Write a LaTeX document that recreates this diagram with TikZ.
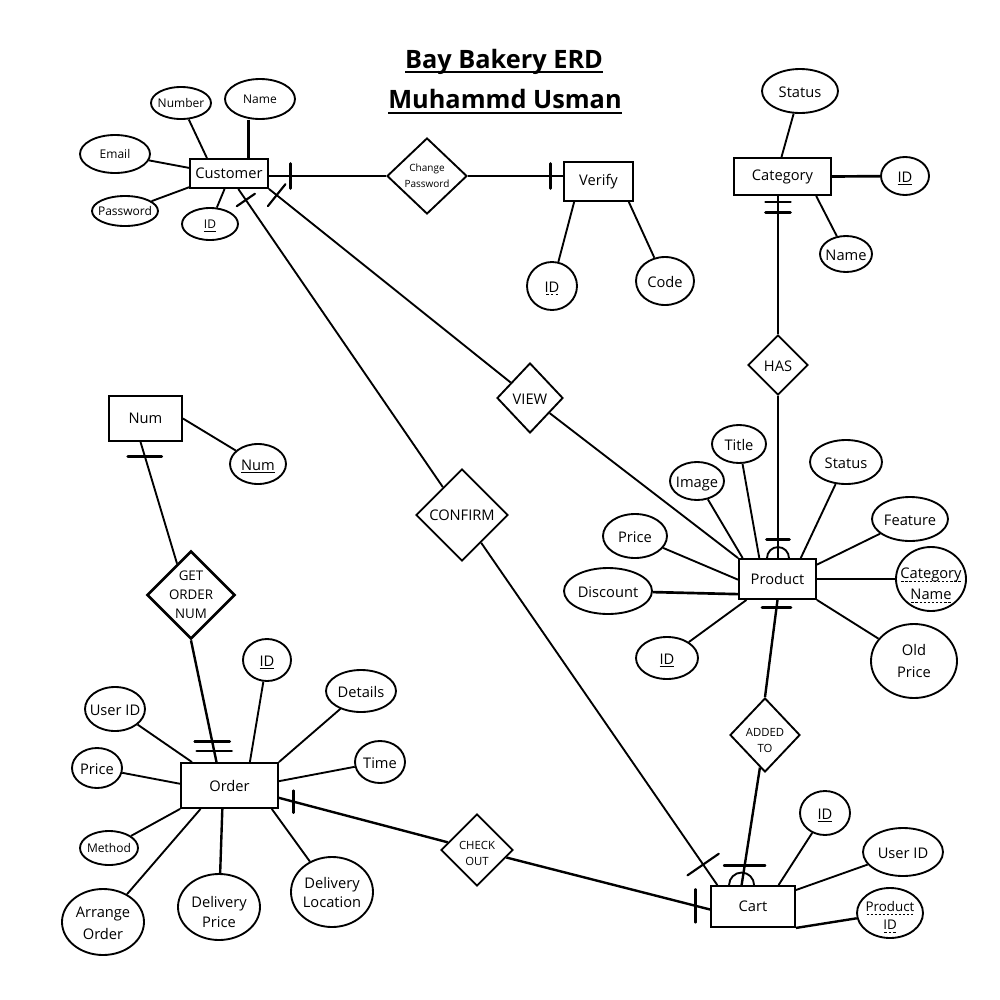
\documentclass[tikz,border=0pt]{standalone}
\usepackage{fontspec}
\setmainfont{Open Sans}
\usetikzlibrary{shapes.geometric,calc}
\newcommand\tx[2][1.5pt]{\raisebox{\dimexpr-#1-0.25em\relax}[0pt][0pt]{\makebox[0pt]{\begin{tabular}{@{}c@{}}#2\end{tabular}}}}
\newsavebox\myulbox
\newcommand\myul[1]{\sbox\myulbox{#1}\rlap{\usebox\myulbox}\rule[-2.2pt]{\wd\myulbox}{0.65pt}}
\newcommand\mytitleul[1]{\sbox\myulbox{#1}\rlap{\usebox\myulbox}\rule[-4pt]{\wd\myulbox}{1.7pt}}
\newcommand\mydul[1]{\sbox\myulbox{#1}\rlap{\usebox\myulbox}\hbox to \wd\myulbox{\xleaders\hbox{\kern0.6pt\rule[-2.2pt]{1.8pt}{0.6pt}\kern0.6pt}\hfill}}
\begin{document}
\begin{tikzpicture}[x=0.75pt,y=-0.75pt,
 ent/.style 2 args={draw, line width=1.4pt, rectangle, inner sep=0pt, minimum width=#1*0.75pt, minimum height=#2*0.75pt, font=\fontsize{11}{14}\selectfont},
 att/.style 2 args={draw, line width=1.4pt, ellipse, inner sep=0pt, minimum width=#1*0.75pt, minimum height=#2*0.75pt, font=\fontsize{11}{16}\selectfont},
 rel/.style 2 args={draw, line width=1.4pt, diamond, inner sep=0pt, minimum width=#1*0.75pt, minimum height=#2*0.75pt, font=\fontsize{11}{14}\selectfont},
 ln/.style={line width=1.4pt},
 hbar/.style={draw, line width=2pt, line join=round, rectangle, minimum width=#1*0.75pt, minimum height=0pt, inner sep=0pt, outer sep=0pt},
 vbar/.style={draw, line width=2pt, line join=round, rectangle, minimum height=#1*0.75pt, minimum width=0pt, inner sep=0pt, outer sep=0pt},
 xmark/.style={sloped, draw, line width=1.6pt, line join=round, rectangle, minimum height=#1*0.75pt, minimum width=0pt, inner sep=0pt, outer sep=0pt},
]
\fill[white] (0,0) rectangle (1000,1000);
\useasboundingbox (0,0) rectangle (1000,1000);

% titles
\node[font=\bfseries\fontsize{19}{23}\selectfont] (t1) at (504,61.5) {\mytitleul{Bay Bakery ERD}};
\node[font=\bfseries\fontsize{19}{23}\selectfont] (t2) at (505,101.5) {\mytitleul{Muhammd Usman}};

% Customer
\node[ent={78}{29}] (cust) at (229,173.5) {Customer};
\node[att={60}{32}, font=\fontsize{9}{11}\selectfont] (cnum) at (181,103) {\tx{Number}};
\node[att={70}{40}, font=\fontsize{9}{11}\selectfont] (cname) at (260,99) {\tx{Name}};
\node[att={70}{38}, font=\fontsize{9}{11}\selectfont] (cemail) at (115,154) {\tx{Email}};
\node[att={66}{30}, font=\fontsize{9}{11}\selectfont] (cpass) at (125,211) {\tx{Password}};
\node[att={56}{32}, font=\fontsize{9}{11}\selectfont] (cid) at (210,224) {\tx{\myul{ID}}};

% Change password / Verify
\node[rel={80}{76}, font=\fontsize{7.5}{12}\selectfont] (cp) at (427,176) {\tx[0pt]{Change\\Password}};
\node[ent={69}{39}] (ver) at (598.5,181.5) {Verify};
\node[att={50}{48}] (vid) at (552,286) {\tx{\mydul{ID}}};
\node[att={58}{48}] (vcode) at (665,281) {\tx{Code}};

% Category
\node[ent={97}{37}] (cat) at (782.5,176.5) {Category};
\node[att={76}{44}] (cstat) at (800,91) {\tx{Status}};
\node[att={48}{38}] (catid) at (905,176) {\tx{\myul{ID}}};
\node[att={52}{36}] (catname) at (846,254) {\tx{Name}};
\node[rel={60}{60}] (has) at (778,365) {\tx[2pt]{HAS}};

% Product
\node[ent={77}{40}] (prod) at (777.5,579) {Product};
\node[att={54}{38}] (ptitle) at (739,444) {\tx{Title}};
\node[att={54}{38}] (pimage) at (697,481) {\tx{Image}};
\node[att={72}{44}] (pstat) at (846,462) {\tx{Status}};
\node[att={76}{44}] (pfeat) at (910,519) {\tx{Feature}};
\node[att={64}{44}] (pprice) at (635,536) {\tx{Price}};
\node[att={88}{46}] (pdisc) at (608,591) {\tx{Discount}};
\node[att={70}{64}] (pcat) at (931,579) {\tx[4.5pt]{\mydul{Category}\\\mydul{Name}}};
\node[att={62}{42}] (pid) at (667,658) {\tx{\myul{ID}}};
\node[att={86}{74}] (pold) at (914,661) {\tx[0.8pt]{Old\\Price}};

% relationships
\node[rel={66}{70}] (view) at (530,398) {\tx[2pt]{VIEW}};
\node[rel={92}{92}] (conf) at (462,515) {\tx{CONFIRM}};
\node[rel={70}{74}, font=\fontsize{8.5}{12.5}\selectfont] (addto) at (765,735) {\tx[4.5pt]{ADDED\\TO}};
\node[rel={72}{72}, font=\fontsize{8.5}{12.5}\selectfont] (co) at (477,850) {\tx[3pt]{CHECK\\OUT}};
\node[rel={88}{88}, line width=2pt, font=\fontsize{10}{14}\selectfont] (gon) at (191,595) {\tx[0.5pt]{GET\\ORDER\\NUM}};

% Cart
\node[ent={84}{41}] (cart) at (753,906.5) {Cart};
\node[att={50}{44}] (cartid) at (825,813) {\tx{\myul{ID}}};
\node[att={80}{48}] (cartuser) at (903,852) {\tx{User ID}};
\node[att={66}{50}, font=\fontsize{10}{13.5}\selectfont] (cartprod) at (890,913) {\tx[3pt]{\mydul{Product}\\\mydul{ID}}};

% Num
\node[ent={73}{45}] (num) at (145.5,418.5) {Num};
\node[att={56}{40}] (numattr) at (258,464) {\tx{\myul{Num}}};

% Order
\node[ent={97}{45}] (order) at (229.5,785.5) {Order};
\node[att={48}{42}] (oid) at (267,660) {\tx{\myul{ID}}};
\node[att={70}{42}] (odet) at (361,691) {\tx{Details}};
\node[att={50}{42}] (otime) at (380,762) {\tx{Time}};
\node[att={60}{44}] (ouser) at (115,709) {\tx{User ID}};
\node[att={50}{40}] (oprice) at (97,768) {\tx{Price}};
\node[att={58}{34}, font=\fontsize{9}{11}\selectfont] (ometh) at (109,848) {\tx{Method}};
\node[att={82}{66}, font=\fontsize{11}{16.5}\selectfont] (oarr) at (103,922) {\tx{Arrange\\Order}};
\node[att={82}{66}, font=\fontsize{11}{15}\selectfont] (odp) at (219,907) {\tx[4.5pt]{Delivery\\Price}};
\node[att={82}{70}, font=\fontsize{11}{14.5}\selectfont] (odl) at (332,892) {\tx{Delivery\\Location}};

% ---- connectors ----
% Customer attributes
\draw[ln] (cnum) -- (cust.145.4);
\draw[ln, line width=2pt] (cust.38.9 |- cname.south) -- (cust.38.9);
\draw[ln] (cemail) -- (cust.172);
\draw[ln] (cpass) -- (cust.199);
\draw[ln] (cid) -- (cust.254.6);

% Customer - Change Password - Verify
\draw[ln, line width=2.2pt] (cust.east |- cp.west) -- (cp.west) node[pos=0.185, vbar=25]{};
\draw[ln, line width=2pt] (cp.east) -- (ver.west |- cp.east) node[pos=0.866, vbar=25]{};
\draw[ln] (vid) -- (ver.220.9);
\draw[ln] (vcode) -- (ver.326.5);

% Category
\draw[ln] (cstat) -- (cat.93);
\draw[ln, line width=2pt] (cat.east) -- (catid);
\draw[ln] (cat.330.3) -- (catname);
\draw[ln, line width=1.8pt] (has.north |- cat.south) -- (has.north) node[pos=0.043, hbar=25]{} node[pos=0.121, hbar=25]{};
\draw[ln, line width=1.8pt] (has.south) -- (has.south |- prod.north) coordinate (ptop) node[pos=0.884, hbar=23]{};
\draw[ln] ([xshift=-8.25pt]ptop) arc[start angle=180, end angle=360, radius=11];

% Product attributes
\draw[ln] (ptitle) -- (prod.131.2);
\draw[ln] (pimage) -- (prod.149.9);
\draw[ln] (pstat) -- (prod.42.9);
\draw[ln] (pfeat) -- (prod.20);
\draw[ln] (pprice) -- (prod.181.5);
\draw[ln, line width=2pt] (pdisc) -- (prod.201.3);
\draw[ln, line width=1.8pt] (prod.east) -- (pcat);
\draw[ln] (pid) -- (prod.214.6);
\draw[ln] (prod.south east) -- (pold);

% VIEW
\draw[ln] (cust.south east) -- (view) node[pos=0.032, xmark=28]{};
\draw[ln] (view) -- (prod.north west);

% CONFIRM
\draw[ln] (cust.301.8) -- (conf) node[pos=0.037, xmark=22]{};
\draw[ln] (conf) -- (cart.149.6) node[pos=0.94, xmark=38]{};

% ADDED TO
\draw[ln, line width=1.8pt] (prod.south) -- (addto.north) node[pos=0.08, hbar=29]{};
\draw[ln, line width=1.8pt] (addto) -- (cart.118.2) coordinate (ctop) node[pos=0.836, hbar=41]{};
\draw[ln] ([xshift=-9.4pt]ctop) arc[start angle=180, end angle=360, radius=12.5];

% Cart attributes
\draw[ln] (cart.40.5) -- (cartid);
\draw[ln] (cart.21.4) -- (cartuser);
\draw[ln, line width=1.8pt] (cart.south east) -- (cartprod);

% CHECK OUT
\draw[ln, line width=1.8pt] (order.346.7) -- (co) node[pos=0.086, vbar=22]{};
\draw[ln, line width=1.8pt] (co) -- (cart.184.8) node[pos=0.93, vbar=33]{};

% Num / GET ORDER NUM
\draw[ln] (num.east) -- (numattr);
\draw[ln] (num.258.7) -- (gon.114) node[pos=0.117, hbar=34]{};
\draw[ln, line width=1.8pt] (gon.south) -- (order.119) node[pos=0.83, hbar=35]{} node[pos=0.91, hbar=35]{};

% Order attributes
\draw[ln] (oid) -- (order.49.1);
\draw[ln] (odet) -- (order.north east);
\draw[ln] (otime) -- (order.5.3);
\draw[ln] (ouser) -- (order.148.4);
\draw[ln] (oprice) -- (order.178.2);
\draw[ln] (ometh) -- (order.south west);
\draw[ln] (oarr) -- (order.219.3);
\draw[ln, line width=1.8pt] (odp) -- (order.253.9);
\draw[ln] (odl) -- (order.331.5);
\end{tikzpicture}
\end{document}
